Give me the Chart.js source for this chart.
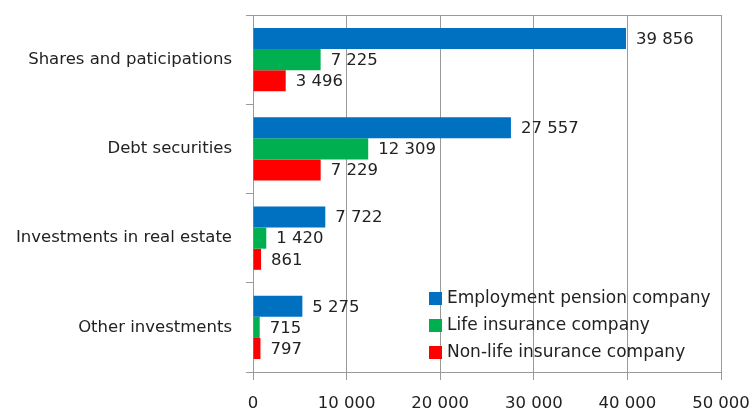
<!DOCTYPE html>
<html>
<head>
<meta charset="utf-8">
<script src="https://cdn.jsdelivr.net/npm/chart.js@4/dist/chart.umd.min.js"></script>
<style>
  html, body { margin: 0; padding: 0; background: #fff; }
  #wrap { width: 751px; height: 409px; }
</style>
</head>
<body>
<div id="wrap"><canvas id="chart"></canvas></div>
<script>
// Data
const categories = ['Shares and paticipations', 'Debt securities', 'Investments in real estate', 'Other investments'];
const seriesNames = ['Employment pension company', 'Life insurance company', 'Non-life insurance company'];
const employmentPension = [39856, 27557, 7722, 5275];
const lifeInsurance = [7225, 12309, 1420, 715];
const nonLifeInsurance = [3496, 7229, 861, 797];
const xTicks = [0, 10000, 20000, 30000, 40000, 50000];
const colors = ['#0070C0', '#00B050', '#FF0000'];

const FONT = 'DejaVu Sans';
const TEXT = '#222';
const GRID = '#9a9a9a';

function fmt(v) {
  return String(v).replace(/\B(?=(\d{3})+(?!\d))/g, ' ');
}

// Value labels to the right of each bar
const valueLabels = {
  id: 'valueLabels',
  afterDatasetsDraw(chart) {
    const ctx = chart.ctx;
    ctx.save();
    ctx.font = `16.5px "${FONT}"`;
    ctx.fillStyle = TEXT;
    ctx.textAlign = 'left';
    ctx.textBaseline = 'middle';
    chart.data.datasets.forEach((ds, i) => {
      chart.getDatasetMeta(i).data.forEach((bar, j) => {
        ctx.fillText(fmt(ds.data[j]), bar.x + 10, bar.y + 1);
      });
    });
    ctx.restore();
  }
};

// Border on top of plot + legend inside the plot
const frameAndLegend = {
  id: 'frameAndLegend',
  afterDraw(chart) {
    const ctx = chart.ctx;
    const a = chart.chartArea;
    ctx.save();
    ctx.strokeStyle = GRID;
    ctx.lineWidth = 1;
    ctx.beginPath();
    ctx.moveTo(a.left, a.top + 0.5);
    ctx.lineTo(a.right, a.top + 0.5);
    ctx.stroke();

    ctx.font = `17px "${FONT}"`;
    ctx.textAlign = 'left';
    ctx.textBaseline = 'middle';
    const lx = a.left + 176;
    let ly = a.bottom - 74;
    seriesNames.forEach((name, i) => {
      ctx.fillStyle = colors[i];
      ctx.fillRect(lx, ly - 6, 13, 13);
      ctx.fillStyle = TEXT;
      ctx.fillText(name, lx + 18, ly + 1);
      ly += 27;
    });
    ctx.restore();
  }
};

new Chart(document.getElementById('chart'), {
  type: 'bar',
  data: {
    labels: categories,
    datasets: [
      { label: seriesNames[0], data: employmentPension, backgroundColor: colors[0] },
      { label: seriesNames[1], data: lifeInsurance, backgroundColor: colors[1] },
      { label: seriesNames[2], data: nonLifeInsurance, backgroundColor: colors[2] }
    ]
  },
  options: {
    indexAxis: 'y',
    responsive: true,
    maintainAspectRatio: false,
    animation: false,
    categoryPercentage: 0.71,
    barPercentage: 1.0,
    layout: { padding: { top: 15, right: 30, left: 0, bottom: 0 } },
    plugins: {
      legend: { display: false },
      tooltip: { enabled: false }
    },
    scales: {
      x: {
        min: 0,
        max: 50000,
        afterBuildTicks: (s) => { s.ticks = xTicks.map(v => ({ value: v })); },
        afterFit: (s) => { s.height = 37; s.paddingLeft = 0; s.paddingRight = 0; },
        grid: { color: GRID, tickLength: 8, tickColor: GRID },
        border: { color: GRID },
        ticks: {
          color: TEXT,
          font: { family: FONT, size: 16.5 },
          padding: 14,
          maxRotation: 0,
          callback: (v) => fmt(v)
        }
      },
      y: {
        afterFit: (s) => { s.width = 253; s.paddingTop = 0; s.paddingBottom = 0; },
        grid: { offset: true, drawOnChartArea: false, tickLength: 7, tickColor: GRID },
        border: { color: GRID },
        ticks: {
          color: TEXT,
          font: { family: FONT, size: 16.5 },
          padding: 14
        }
      }
    }
  },
  plugins: [valueLabels, frameAndLegend]
});
</script>
</body>
</html>
